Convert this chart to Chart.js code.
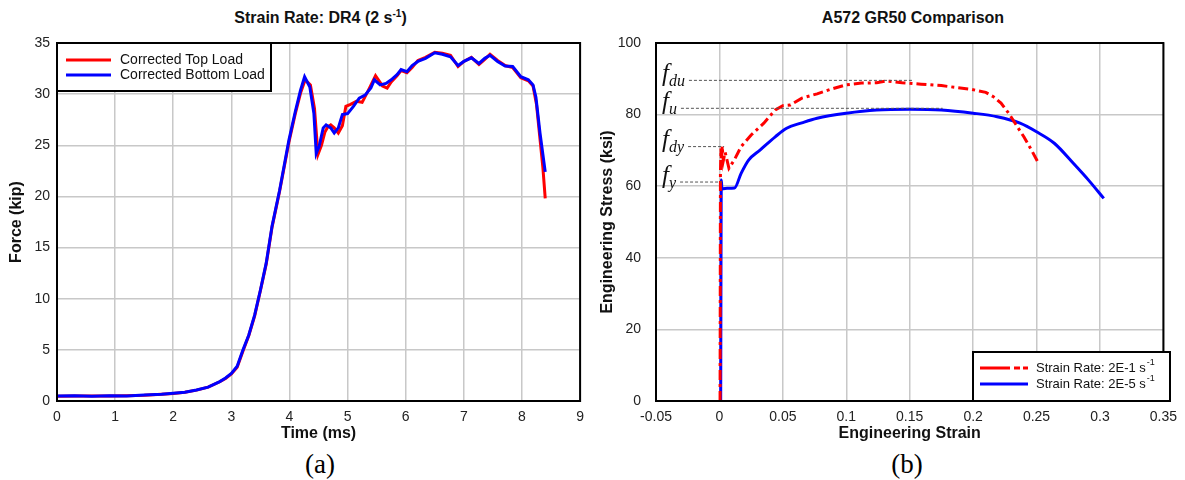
<!DOCTYPE html>
<html>
<head>
<meta charset="utf-8">
<script src="https://cdn.jsdelivr.net/npm/chart.js@4.4.1/dist/chart.umd.min.js"></script>
<style>
  body { margin: 0; width: 1185px; height: 480px; background: #fff; position: relative; overflow: hidden; }
  canvas { position: absolute; top: 0; }
  .title { position: absolute; top: 8px; text-align: center; font: bold 16px 'Liberation Sans', Arial, sans-serif; line-height: 20px; color: #111; }
  .title sup { font-size: 10px; line-height: 0; vertical-align: 6px; }
  .cap { position: absolute; top: 449px; width: 80px; text-align: center; font: 27px 'Liberation Serif', 'Times New Roman', serif; line-height: 30px; color: #000; }
</style>
</head>
<body>
<div class="title" style="left:57px;width:527px">Strain Rate: DR4 (2 s<sup>-1</sup>)</div>
<div class="title" style="left:656px;width:514px">A572 GR50 Comparison</div>
<canvas id="forceChart" width="592" height="445" style="left:0"></canvas>
<canvas id="stressChart" width="593" height="445" style="left:592px"></canvas>
<div class="cap" style="left:280px">(a)</div>
<div class="cap" style="left:867px">(b)</div>
<script>
// (a) force vs time
const timeTop = [0, 0.3, 0.6, 0.9, 1.2, 1.5, 1.8, 2.0, 2.2, 2.4, 2.6, 2.8, 2.9, 3.0, 3.1, 3.2, 3.3, 3.4, 3.5, 3.6, 3.7, 3.83, 3.99, 4.1, 4.19, 4.27, 4.36, 4.43, 4.49, 4.55, 4.61, 4.66, 4.71, 4.77, 4.84, 4.91, 4.97, 5.05, 5.15, 5.25, 5.35, 5.48, 5.6, 5.68, 5.75, 5.85, 5.92, 6.02, 6.11, 6.21, 6.34, 6.5, 6.63, 6.77, 6.9, 7.0, 7.13, 7.26, 7.36, 7.45, 7.58, 7.71, 7.84, 7.98, 8.11, 8.19, 8.25, 8.31, 8.36, 8.4];
const loadTop = [0.47, 0.5, 0.48, 0.5, 0.52, 0.57, 0.66, 0.74, 0.86, 1.06, 1.36, 1.88, 2.2, 2.65, 3.3, 4.9, 6.4, 8.3, 10.8, 13.4, 17.0, 20.5, 25.3, 28.1, 30.1, 31.4, 30.9, 28.6, 24.1, 25.0, 26.3, 26.8, 27.0, 26.7, 26.2, 26.9, 28.8, 29.0, 29.3, 29.2, 30.3, 31.8, 30.8, 30.6, 31.2, 31.8, 32.3, 32.1, 32.6, 33.3, 33.6, 34.1, 34.0, 33.8, 32.7, 33.2, 33.6, 32.9, 33.4, 33.9, 33.3, 32.8, 32.6, 31.6, 31.3, 30.8, 29.0, 25.6, 22.8, 19.8];
const timeBottom = [0, 0.3, 0.6, 0.9, 1.2, 1.5, 1.8, 2.0, 2.2, 2.4, 2.6, 2.8, 2.9, 3.0, 3.1, 3.2, 3.3, 3.4, 3.5, 3.6, 3.7, 3.83, 3.99, 4.1, 4.19, 4.26, 4.35, 4.42, 4.46, 4.51, 4.58, 4.63, 4.71, 4.77, 4.84, 4.91, 5.0, 5.1, 5.2, 5.3, 5.4, 5.46, 5.56, 5.66, 5.75, 5.85, 5.92, 6.02, 6.11, 6.21, 6.34, 6.5, 6.63, 6.77, 6.9, 7.0, 7.13, 7.26, 7.36, 7.45, 7.58, 7.71, 7.84, 7.98, 8.11, 8.19, 8.24, 8.31, 8.4];
const loadBottom = [0.49, 0.52, 0.47, 0.51, 0.5, 0.58, 0.65, 0.75, 0.85, 1.08, 1.35, 1.9, 2.25, 2.7, 3.4, 5.0, 6.45, 8.4, 10.85, 13.5, 17.1, 20.6, 25.5, 28.3, 30.4, 31.7, 30.7, 28.1, 24.2, 24.9, 26.7, 27.0, 26.7, 26.2, 26.7, 28.0, 28.1, 28.8, 29.6, 29.9, 30.6, 31.4, 30.9, 31.05, 31.4, 31.9, 32.4, 32.2, 32.8, 33.2, 33.5, 34.05, 33.9, 33.65, 32.8, 33.2, 33.55, 33.0, 33.5, 33.8, 33.2, 32.75, 32.7, 31.7, 31.4, 30.9, 29.7, 26.2, 22.4];
const timeTicks = [0, 1, 2, 3, 4, 5, 6, 7, 8, 9];
const forceTicks = [0, 5, 10, 15, 20, 25, 30, 35];

// (b) stress vs strain
const strainFast = [0.0005, 0.0008, 0.0012, 0.0016, 0.0022, 0.003, 0.0045, 0.0075, 0.012, 0.017, 0.025, 0.035, 0.044, 0.05, 0.056, 0.065, 0.077, 0.088, 0.1, 0.112, 0.124, 0.132, 0.144, 0.159, 0.175, 0.186, 0.198, 0.21, 0.216, 0.222, 0.228, 0.234, 0.24, 0.246, 0.251];
const stressFast = [0, 63.5, 70.5, 66.5, 71.2, 67.0, 69.5, 65.0, 67.5, 71.0, 74.3, 77.6, 81.3, 82.5, 82.7, 84.6, 85.8, 87.1, 88.3, 88.8, 88.9, 89.4, 88.9, 88.5, 88.1, 87.6, 87.1, 86.2, 85.0, 83.2, 80.4, 77.1, 73.8, 70.1, 66.8];
const strainSlow = [0.001, 0.0015, 0.002, 0.003, 0.006, 0.0119, 0.0171, 0.023, 0.032, 0.044, 0.053, 0.065, 0.077, 0.1, 0.124, 0.15, 0.175, 0.2, 0.219, 0.237, 0.25, 0.264, 0.279, 0.291, 0.303];
const stressSlow = [0, 61.7, 59.2, 59.3, 59.4, 59.5, 63.6, 67.3, 70.1, 73.8, 76.2, 77.7, 79.0, 80.4, 81.3, 81.5, 81.3, 80.4, 79.4, 77.6, 75.2, 72.0, 66.4, 61.7, 56.6];
const strainTicks = [-0.05, 0, 0.05, 0.1, 0.15, 0.2, 0.25, 0.3, 0.35];
const stressTicks = [0, 20, 40, 60, 80, 100];

// f_du, f_u, f_dy, f_y reference levels
const markSubs = ['du', 'u', 'dy', 'y'];
const markStress = [89.7, 81.9, 71.2, 61.3];
const markStrainEnd = [0.152, 0.176, 0.0037, 0.0021];

const pts = (xs, ys) => xs.map((x, i) => ({ x, y: ys[i] }));

Chart.defaults.font.family = "'Liberation Sans', Arial, sans-serif";
Chart.defaults.font.size = 14;
Chart.defaults.color = '#222';

function axis(ticks, title, o) {
  return {
    type: 'linear',
    min: ticks[0],
    max: ticks[ticks.length - 1],
    afterBuildTicks: (s) => { s.ticks = ticks.map((value) => ({ value })); },
    afterFit: (s) => { if (o.w) s.width = o.w; if (o.h) s.height = o.h; },
    ticks: { padding: o.pad, color: '#222', callback: (v) => String(+v.toFixed(2)) },
    grid: { color: '#c8c8c8', lineWidth: 1.5, drawTicks: false },
    border: { display: false },
    title: { display: true, text: title, color: '#111', font: { size: 16, weight: 'bold' }, padding: o.titlePad }
  };
}

const frame = {
  id: 'frame',
  afterDatasetsDraw(chart) {
    const { ctx, chartArea: a } = chart;
    ctx.save();
    ctx.strokeStyle = '#000';
    ctx.lineWidth = 2;
    ctx.strokeRect(a.left, a.top, a.right - a.left, a.bottom - a.top);
    ctx.restore();
  }
};

const boxLegend = {
  id: 'boxLegend',
  afterDraw(chart, args, o) {
    if (!o.box) return;
    const ctx = chart.ctx;
    const [l, t, r, b] = o.box;
    ctx.save();
    ctx.fillStyle = '#fff';
    ctx.fillRect(l, t, r - l, b - t);
    ctx.strokeStyle = '#000';
    ctx.lineWidth = 2;
    ctx.strokeRect(l, t, r - l, b - t);
    o.entries.forEach((e, i) => {
      const ds = chart.data.datasets[e.ds];
      const y = o.rowY[i];
      ctx.beginPath();
      ctx.setLineDash(e.dash || []);
      ctx.strokeStyle = ds.borderColor;
      ctx.lineWidth = 3;
      ctx.moveTo(o.sampleX[0], y);
      ctx.lineTo(o.sampleX[1], y);
      ctx.stroke();
      ctx.setLineDash([]);
      ctx.fillStyle = '#111';
      ctx.textBaseline = 'middle';
      ctx.font = o.size + "px 'Liberation Sans', Arial, sans-serif";
      ctx.fillText(ds.label, o.textX, y);
      if (e.sup) {
        const w = ctx.measureText(ds.label).width;
        ctx.font = (o.size - 4) + "px 'Liberation Sans', Arial, sans-serif";
        ctx.fillText(e.sup, o.textX + w + 1, y - 5);
      }
    });
    ctx.restore();
  }
};

const yieldMarks = {
  id: 'yieldMarks',
  afterDatasetsDraw(chart) {
    const { ctx, chartArea: a, scales } = chart;
    ctx.save();
    markSubs.forEach((sub, i) => {
      const y = scales.y.getPixelForValue(markStress[i]);
      const xEnd = scales.x.getPixelForValue(markStrainEnd[i]);
      let x = a.left + 6;
      ctx.fillStyle = '#111';
      ctx.textBaseline = 'alphabetic';
      ctx.font = "italic 25px 'Liberation Serif', 'Times New Roman', serif";
      ctx.fillText('f', x, y + 1);
      x += ctx.measureText('f').width;
      ctx.font = "italic 16px 'Liberation Serif', 'Times New Roman', serif";
      ctx.fillText(sub, x, y + 6);
      x += ctx.measureText(sub).width + 4;
      ctx.beginPath();
      ctx.setLineDash([3, 2]);
      ctx.strokeStyle = '#555';
      ctx.lineWidth = 1;
      ctx.moveTo(x, y + 0.5);
      ctx.lineTo(xEnd, y + 0.5);
      ctx.stroke();
    });
    ctx.restore();
  }
};

new Chart(document.getElementById('forceChart'), {
  type: 'scatter',
  data: {
    datasets: [
      { label: 'Corrected Top Load', data: pts(timeTop, loadTop), showLine: true, borderColor: '#ff0000', borderWidth: 3, pointRadius: 0, order: 1 },
      { label: 'Corrected Bottom Load', data: pts(timeBottom, loadBottom), showLine: true, borderColor: '#0000ff', borderWidth: 3, pointRadius: 0, order: 0 }
    ]
  },
  options: {
    responsive: false,
    animation: false,
    devicePixelRatio: 1,
    layout: { padding: { left: 0, right: 8, top: 43, bottom: 0 } },
    plugins: {
      legend: { display: false },
      tooltip: { enabled: false },
      boxLegend: { box: [57, 43, 271, 91], sampleX: [66, 111], textX: 120, rowY: [60, 75], size: 14, entries: [{ ds: 0 }, { ds: 1 }] }
    },
    scales: {
      x: axis(timeTicks, 'Time (ms)', { h: 44, pad: 8, titlePad: { bottom: 2 } }),
      y: axis(forceTicks, 'Force (kip)', { w: 57, pad: 7, titlePad: { top: 7 } })
    }
  },
  plugins: [frame, boxLegend]
});

new Chart(document.getElementById('stressChart'), {
  type: 'scatter',
  data: {
    datasets: [
      { label: 'Strain Rate: 2E-1 s', data: pts(strainFast, stressFast), showLine: true, borderColor: '#ff0000', borderWidth: 3, borderDash: [10, 4, 3, 4], pointRadius: 0, order: 0 },
      { label: 'Strain Rate: 2E-5 s', data: pts(strainSlow, stressSlow), showLine: true, borderColor: '#0000ff', borderWidth: 3, pointRadius: 0, cubicInterpolationMode: 'monotone', order: 1 }
    ]
  },
  options: {
    responsive: false,
    animation: false,
    devicePixelRatio: 1,
    layout: { padding: { left: 0, right: 15, top: 43, bottom: 0 } },
    plugins: {
      legend: { display: false },
      tooltip: { enabled: false },
      boxLegend: { box: [381, 352, 578, 401], sampleX: [388, 436], textX: 444, rowY: [368, 384], size: 13, entries: [{ ds: 0, sup: '-1', dash: [30, 4, 6, 3, 6, 40] }, { ds: 1, sup: '-1' }] }
    },
    scales: {
      x: axis(strainTicks, 'Engineering Strain', { h: 44, pad: 8, titlePad: { bottom: 2 } }),
      y: axis(stressTicks, 'Engineering Stress (ksi)', { w: 64, pad: 15, titlePad: { top: 6 } })
    }
  },
  plugins: [frame, yieldMarks, boxLegend]
});
</script>
</body>
</html>
